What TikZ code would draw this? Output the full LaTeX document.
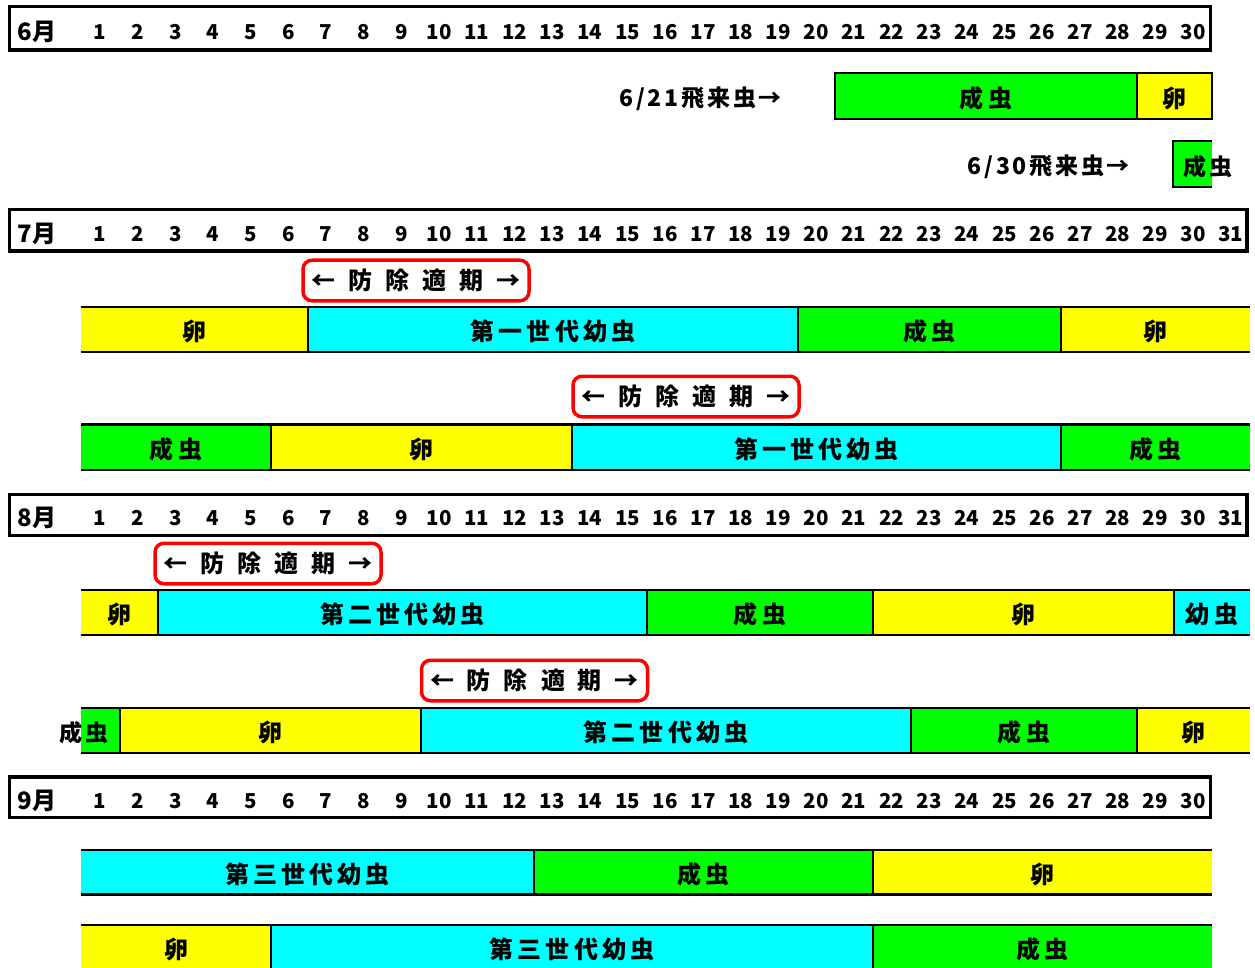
\documentclass[tikz,border=0pt]{standalone}
\usepackage{fontspec}
\setmainfont{Noto Sans CJK JP}
\newfontfamily\jpsp{Noto Sans CJK JP}[LetterSpace=17]
\newfontfamily\jpsm{Noto Sans CJK JP}[LetterSpace=12]
\definecolor{cgreen}{HTML}{00FF00}
\definecolor{cyellow}{HTML}{FFFF00}
\definecolor{ccyan}{HTML}{00FFFF}
\definecolor{cred}{HTML}{FF0000}
\newcommand\seg[7]{\node[segbox, fill=#6, minimum width={#3-#2}, minimum height={#5-#4}] (#1) at ({(#2+#3)/2},{(#4+#5)/2}) {};
  \node[segtxt] (#1t) at ([yshift=-1.8pt]#1.center) {#7};}
\newcommand\segdiv[1]{\draw[divline] (#1.north east) -- (#1.south east);}
\newcommand\barlines[2]{\draw[barline] (#1.north west) -- (#2.north east); \draw[barline] (#1.south west) -- (#2.south east);}
\newcommand\gp{\hspace{13pt}}
\tikzset{
  segbox/.style={inner sep=0pt, outer sep=0pt},
  segtxt/.style={inner sep=0pt, font={\fontsize{24}{26}\selectfont\jpsp\bfseries}, text=black},
  lbl/.style={inner sep=0pt, font={\fontsize{23}{26}\selectfont\jpsm\bfseries}},
  barline/.style={line width=2.2pt},
  divline/.style={line width=1.6pt},
  hdrbox/.style={draw, line width=3.5pt, inner sep=0pt, outer sep=0pt},
  daynum/.style={inner sep=0pt, font={\fontsize{20.5}{22}\selectfont\bfseries}},
  month/.style={inner sep=0pt, font={\fontsize{24}{26}\selectfont\bfseries}},
  callout/.style={draw=cred, line width=3.5pt, rounded corners=9pt, fill=white, inner sep=0pt,
     minimum width=226pt, minimum height=40.5pt, font={\fontsize{24}{26}\selectfont\bfseries}},
}
\begin{document}
\begin{tikzpicture}[x=1pt,y=-1pt]
\useasboundingbox (0,0) rectangle (1255,968);
\clip (0,0) rectangle (1255,968);
\fill[white] (0,0) rectangle (1255,968);

% ---------- June ----------
\node[hdrbox, minimum width=1201pt, minimum height=43.3pt] (hdr6) at (610,28.4) {};
\node[month] (m6) at (37,32) {6月};
\foreach \d in {1,...,30} \node[daynum] (h6d\d) at ({81+(\d-0.5)*37.7},32) {\d};

\node[lbl, anchor=east] (fly21) at (782,99) {6/21飛来虫→};
\seg{j1a}{835}{1137}{73.3}{119.3}{cgreen}{成虫}
\seg{j1b}{1137}{1212}{73.3}{119.3}{cyellow}{卵}
\draw[barline] (j1a.north west) rectangle (j1b.south east);
\segdiv{j1a}

\node[lbl, anchor=east] (fly30) at (1130,167) {6/30飛来虫→};
\seg{j2a}{1173}{1212}{141}{187}{cgreen}{}
\draw[barline] (j2a.north east) -- (j2a.north west) -- (j2a.south west) -- (j2a.south east);
\node[lbl] (j2lbl) at (1208,167) {成虫};

% ---------- July ----------
\node[hdrbox, minimum width=1237.5pt, minimum height=41.3pt] (hdr7) at (628.25,230.35) {};
\node[month] (m7) at (37,234) {7月};
\foreach \d in {1,...,31} \node[daynum] (h7d\d) at ({81+(\d-0.5)*37.7},234) {\d};

\node[callout] (c7a) at (416,280.5) {←\gp 防\gp 除\gp 適\gp 期\gp →};
\seg{u1a}{81}{308}{307}{352}{cyellow}{卵}
\seg{u1b}{308}{798}{307}{352}{ccyan}{第一世代幼虫}
\seg{u1c}{798}{1061}{307}{352}{cgreen}{成虫}
\seg{u1d}{1061}{1250}{307}{352}{cyellow}{卵}
\barlines{u1a}{u1d}
\segdiv{u1a}\segdiv{u1b}\segdiv{u1c}

\node[callout] (c7b) at (686,396.5) {←\gp 防\gp 除\gp 適\gp 期\gp →};
\seg{u2a}{81}{271}{424.5}{470}{cgreen}{成虫}
\seg{u2b}{271}{572}{424.5}{470}{cyellow}{卵}
\seg{u2c}{572}{1061}{424.5}{470}{ccyan}{第一世代幼虫}
\seg{u2d}{1061}{1250}{424.5}{470}{cgreen}{成虫}
\barlines{u2a}{u2d}
\segdiv{u2a}\segdiv{u2b}\segdiv{u2c}

% ---------- August ----------
\node[hdrbox, minimum width=1237.5pt, minimum height=41pt] (hdr8) at (628.25,515) {};
\node[month] (m8) at (37,518) {8月};
\foreach \d in {1,...,31} \node[daynum] (h8d\d) at ({81+(\d-0.5)*37.7},518) {\d};

\node[callout] (c8a) at (268,563.5) {←\gp 防\gp 除\gp 適\gp 期\gp →};
\seg{a1a}{81}{158}{590}{635}{cyellow}{卵}
\seg{a1b}{158}{647}{590}{635}{ccyan}{第二世代幼虫}
\seg{a1c}{647}{873}{590}{635}{cgreen}{成虫}
\seg{a1d}{873}{1174}{590}{635}{cyellow}{卵}
\seg{a1e}{1174}{1250}{590}{635}{ccyan}{幼虫}
\barlines{a1a}{a1e}
\segdiv{a1a}\segdiv{a1b}\segdiv{a1c}\segdiv{a1d}

\node[callout] (c8b) at (534.5,680.5) {←\gp 防\gp 除\gp 適\gp 期\gp →};
\seg{a2a}{81}{120}{708}{753}{cgreen}{}
\seg{a2b}{120}{421}{708}{753}{cyellow}{卵}
\seg{a2c}{421}{911}{708}{753}{ccyan}{第二世代幼虫}
\seg{a2d}{911}{1137}{708}{753}{cgreen}{成虫}
\seg{a2e}{1137}{1250}{708}{753}{cyellow}{卵}
\barlines{a2a}{a2e}
\segdiv{a2a}\segdiv{a2b}\segdiv{a2c}\segdiv{a2d}
\node[lbl] (a2lbl) at (84,732.5) {成虫};

% ---------- September ----------
\node[hdrbox, minimum width=1201.2pt, minimum height=40.3pt] (hdr9) at (610.1,797.15) {};
\node[month] (m9) at (37,801) {9月};
\foreach \d in {1,...,30} \node[daynum] (h9d\d) at ({81+(\d-0.5)*37.7},801) {\d};

\seg{s1a}{81}{534}{850}{894.5}{ccyan}{第三世代幼虫}
\seg{s1b}{534}{873}{850}{894.5}{cgreen}{成虫}
\seg{s1c}{873}{1212}{850}{894.5}{cyellow}{卵}
\barlines{s1a}{s1c}
\segdiv{s1a}\segdiv{s1b}

\seg{s2a}{81}{271}{925}{971}{cyellow}{卵}
\seg{s2b}{271}{873}{925}{971}{ccyan}{第三世代幼虫}
\seg{s2c}{873}{1212}{925}{971}{cgreen}{成虫}
\barlines{s2a}{s2c}
\segdiv{s2a}\segdiv{s2b}
\end{tikzpicture}
\end{document}
